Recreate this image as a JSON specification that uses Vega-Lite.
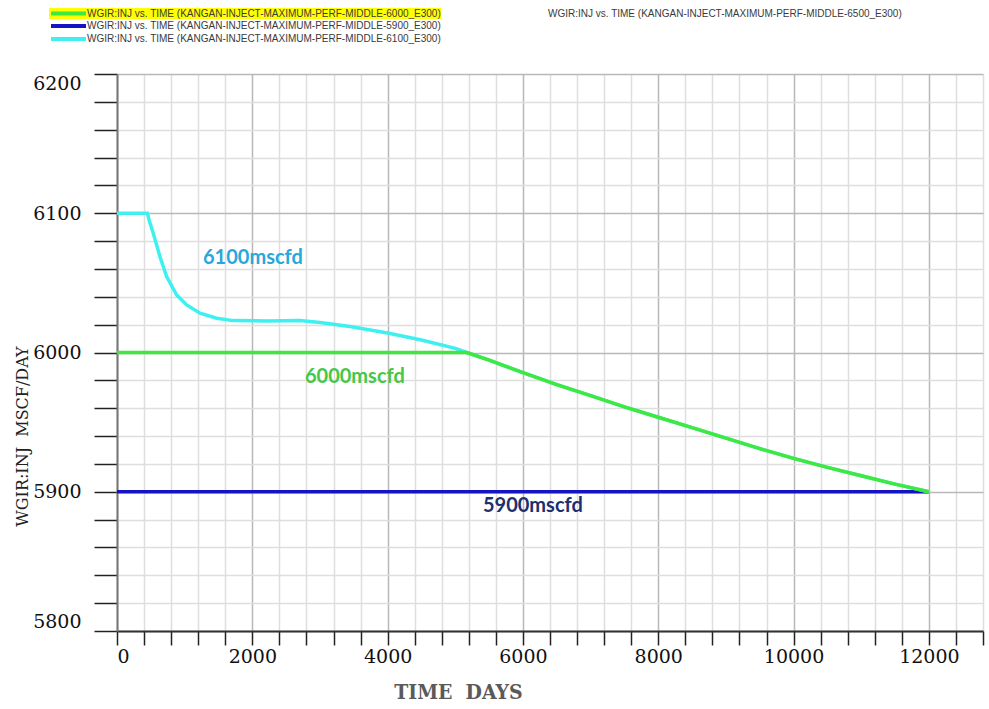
{
  "$schema": "https://vega.github.io/schema/vega-lite/v6.json",
  "autosize": "none",
  "width": 866,
  "height": 557,
  "padding": {"left": 117, "top": 74, "right": 6, "bottom": 78},
  "background": "#ffffff",
  "config": {"view": {"stroke": null}},
  "data": {
    "values": [
      {"series": "WGIR:INJ vs. TIME (KANGAN-INJECT-MAXIMUM-PERF-MIDDLE-5900_E300)", "days": 0, "rate": 5900},
      {"series": "WGIR:INJ vs. TIME (KANGAN-INJECT-MAXIMUM-PERF-MIDDLE-5900_E300)", "days": 12000, "rate": 5900},

      {"series": "WGIR:INJ vs. TIME (KANGAN-INJECT-MAXIMUM-PERF-MIDDLE-6100_E300)", "days": 0, "rate": 6100},
      {"series": "WGIR:INJ vs. TIME (KANGAN-INJECT-MAXIMUM-PERF-MIDDLE-6100_E300)", "days": 450, "rate": 6100},
      {"series": "WGIR:INJ vs. TIME (KANGAN-INJECT-MAXIMUM-PERF-MIDDLE-6100_E300)", "days": 475, "rate": 6095},
      {"series": "WGIR:INJ vs. TIME (KANGAN-INJECT-MAXIMUM-PERF-MIDDLE-6100_E300)", "days": 536, "rate": 6085.6},
      {"series": "WGIR:INJ vs. TIME (KANGAN-INJECT-MAXIMUM-PERF-MIDDLE-6100_E300)", "days": 635, "rate": 6068.8},
      {"series": "WGIR:INJ vs. TIME (KANGAN-INJECT-MAXIMUM-PERF-MIDDLE-6100_E300)", "days": 734, "rate": 6054.5},
      {"series": "WGIR:INJ vs. TIME (KANGAN-INJECT-MAXIMUM-PERF-MIDDLE-6100_E300)", "days": 882, "rate": 6041.3},
      {"series": "WGIR:INJ vs. TIME (KANGAN-INJECT-MAXIMUM-PERF-MIDDLE-6100_E300)", "days": 1030, "rate": 6034.2},
      {"series": "WGIR:INJ vs. TIME (KANGAN-INJECT-MAXIMUM-PERF-MIDDLE-6100_E300)", "days": 1227, "rate": 6028.2},
      {"series": "WGIR:INJ vs. TIME (KANGAN-INJECT-MAXIMUM-PERF-MIDDLE-6100_E300)", "days": 1473, "rate": 6024.6},
      {"series": "WGIR:INJ vs. TIME (KANGAN-INJECT-MAXIMUM-PERF-MIDDLE-6100_E300)", "days": 1719, "rate": 6022.9},
      {"series": "WGIR:INJ vs. TIME (KANGAN-INJECT-MAXIMUM-PERF-MIDDLE-6100_E300)", "days": 2212, "rate": 6022.7},
      {"series": "WGIR:INJ vs. TIME (KANGAN-INJECT-MAXIMUM-PERF-MIDDLE-6100_E300)", "days": 2704, "rate": 6022.9},
      {"series": "WGIR:INJ vs. TIME (KANGAN-INJECT-MAXIMUM-PERF-MIDDLE-6100_E300)", "days": 3000, "rate": 6021.5},
      {"series": "WGIR:INJ vs. TIME (KANGAN-INJECT-MAXIMUM-PERF-MIDDLE-6100_E300)", "days": 3443, "rate": 6018.6},
      {"series": "WGIR:INJ vs. TIME (KANGAN-INJECT-MAXIMUM-PERF-MIDDLE-6100_E300)", "days": 4000, "rate": 6014},
      {"series": "WGIR:INJ vs. TIME (KANGAN-INJECT-MAXIMUM-PERF-MIDDLE-6100_E300)", "days": 4500, "rate": 6009},
      {"series": "WGIR:INJ vs. TIME (KANGAN-INJECT-MAXIMUM-PERF-MIDDLE-6100_E300)", "days": 5000, "rate": 6003},
      {"series": "WGIR:INJ vs. TIME (KANGAN-INJECT-MAXIMUM-PERF-MIDDLE-6100_E300)", "days": 5170, "rate": 6000},
      {"series": "WGIR:INJ vs. TIME (KANGAN-INJECT-MAXIMUM-PERF-MIDDLE-6100_E300)", "days": 5500, "rate": 5994.5},
      {"series": "WGIR:INJ vs. TIME (KANGAN-INJECT-MAXIMUM-PERF-MIDDLE-6100_E300)", "days": 6000, "rate": 5985.5},
      {"series": "WGIR:INJ vs. TIME (KANGAN-INJECT-MAXIMUM-PERF-MIDDLE-6100_E300)", "days": 6500, "rate": 5977},
      {"series": "WGIR:INJ vs. TIME (KANGAN-INJECT-MAXIMUM-PERF-MIDDLE-6100_E300)", "days": 7000, "rate": 5969},
      {"series": "WGIR:INJ vs. TIME (KANGAN-INJECT-MAXIMUM-PERF-MIDDLE-6100_E300)", "days": 7500, "rate": 5961},
      {"series": "WGIR:INJ vs. TIME (KANGAN-INJECT-MAXIMUM-PERF-MIDDLE-6100_E300)", "days": 8000, "rate": 5953.5},
      {"series": "WGIR:INJ vs. TIME (KANGAN-INJECT-MAXIMUM-PERF-MIDDLE-6100_E300)", "days": 8500, "rate": 5946},
      {"series": "WGIR:INJ vs. TIME (KANGAN-INJECT-MAXIMUM-PERF-MIDDLE-6100_E300)", "days": 9000, "rate": 5938.5},
      {"series": "WGIR:INJ vs. TIME (KANGAN-INJECT-MAXIMUM-PERF-MIDDLE-6100_E300)", "days": 9500, "rate": 5931},
      {"series": "WGIR:INJ vs. TIME (KANGAN-INJECT-MAXIMUM-PERF-MIDDLE-6100_E300)", "days": 10000, "rate": 5924},
      {"series": "WGIR:INJ vs. TIME (KANGAN-INJECT-MAXIMUM-PERF-MIDDLE-6100_E300)", "days": 10500, "rate": 5917.5},
      {"series": "WGIR:INJ vs. TIME (KANGAN-INJECT-MAXIMUM-PERF-MIDDLE-6100_E300)", "days": 11000, "rate": 5911.5},
      {"series": "WGIR:INJ vs. TIME (KANGAN-INJECT-MAXIMUM-PERF-MIDDLE-6100_E300)", "days": 11500, "rate": 5905.5},
      {"series": "WGIR:INJ vs. TIME (KANGAN-INJECT-MAXIMUM-PERF-MIDDLE-6100_E300)", "days": 12000, "rate": 5900},

      {"series": "WGIR:INJ vs. TIME (KANGAN-INJECT-MAXIMUM-PERF-MIDDLE-6000_E300)", "days": 0, "rate": 6000},
      {"series": "WGIR:INJ vs. TIME (KANGAN-INJECT-MAXIMUM-PERF-MIDDLE-6000_E300)", "days": 5170, "rate": 6000},
      {"series": "WGIR:INJ vs. TIME (KANGAN-INJECT-MAXIMUM-PERF-MIDDLE-6000_E300)", "days": 5500, "rate": 5994.5},
      {"series": "WGIR:INJ vs. TIME (KANGAN-INJECT-MAXIMUM-PERF-MIDDLE-6000_E300)", "days": 6000, "rate": 5985.5},
      {"series": "WGIR:INJ vs. TIME (KANGAN-INJECT-MAXIMUM-PERF-MIDDLE-6000_E300)", "days": 6500, "rate": 5977},
      {"series": "WGIR:INJ vs. TIME (KANGAN-INJECT-MAXIMUM-PERF-MIDDLE-6000_E300)", "days": 7000, "rate": 5969},
      {"series": "WGIR:INJ vs. TIME (KANGAN-INJECT-MAXIMUM-PERF-MIDDLE-6000_E300)", "days": 7500, "rate": 5961},
      {"series": "WGIR:INJ vs. TIME (KANGAN-INJECT-MAXIMUM-PERF-MIDDLE-6000_E300)", "days": 8000, "rate": 5953.5},
      {"series": "WGIR:INJ vs. TIME (KANGAN-INJECT-MAXIMUM-PERF-MIDDLE-6000_E300)", "days": 8500, "rate": 5946},
      {"series": "WGIR:INJ vs. TIME (KANGAN-INJECT-MAXIMUM-PERF-MIDDLE-6000_E300)", "days": 9000, "rate": 5938.5},
      {"series": "WGIR:INJ vs. TIME (KANGAN-INJECT-MAXIMUM-PERF-MIDDLE-6000_E300)", "days": 9500, "rate": 5931},
      {"series": "WGIR:INJ vs. TIME (KANGAN-INJECT-MAXIMUM-PERF-MIDDLE-6000_E300)", "days": 10000, "rate": 5924},
      {"series": "WGIR:INJ vs. TIME (KANGAN-INJECT-MAXIMUM-PERF-MIDDLE-6000_E300)", "days": 10500, "rate": 5917.5},
      {"series": "WGIR:INJ vs. TIME (KANGAN-INJECT-MAXIMUM-PERF-MIDDLE-6000_E300)", "days": 11000, "rate": 5911.5},
      {"series": "WGIR:INJ vs. TIME (KANGAN-INJECT-MAXIMUM-PERF-MIDDLE-6000_E300)", "days": 11500, "rate": 5905.5},
      {"series": "WGIR:INJ vs. TIME (KANGAN-INJECT-MAXIMUM-PERF-MIDDLE-6000_E300)", "days": 12000, "rate": 5900},

      {"note": "6100mscfd", "days": 1271, "rate": 6068},
      {"note": "6000mscfd", "days": 2778, "rate": 5982.3},
      {"note": "5900mscfd", "days": 5409, "rate": 5889.7}
    ]
  },
  "encoding": {
    "x": {
      "field": "days",
      "type": "quantitative",
      "scale": {"domain": [0, 12800], "nice": false, "zero": false},
      "axis": {
        "title": "TIME\u00a0\u00a0DAYS",
        "titleFont": "DejaVu Serif Condensed, DejaVu Serif",
        "titleFontSize": 21,
        "titleFontWeight": "bold",
        "titleColor": "#5a5a5a",
        "titleX": 341,
        "titleY": 61,
        "titleAlign": "center",
        "titleBaseline": "middle",
        "values": [0, 400, 800, 1200, 1600, 2000, 2400, 2800, 3200, 3600, 4000, 4400, 4800, 5200, 5600, 6000, 6400, 6800, 7200, 7600, 8000, 8400, 8800, 9200, 9600, 10000, 10400, 10800, 11200, 11600, 12000, 12400, 12800],
        "format": "d",
        "labelExpr": "datum.value % 2000 === 0 && datum.value <= 12000 ? datum.label : ''",
        "labelFlush": true,
        "labelOverlap": false,
        "labelFont": "DejaVu Serif",
        "labelFontSize": 19,
        "labelColor": "#111111",
        "labelPadding": 2,
        "labelAngle": 0,
        "tickSize": 14,
        "tickColor": "#222222",
        "tickWidth": 1.5,
        "domainColor": "#333333",
        "domainWidth": 2,
        "grid": true,
        "gridWidth": 1.5,
        "gridColor": {"condition": {"test": "datum.value % 2000 === 0", "value": "#b8b8b8"}, "value": "#dedede"},
        "encode": {"ticks": {"update": {"y2": {"signal": "datum.value % 2000 === 0 ? 14 : 7"}}}}
      }
    },
    "y": {
      "field": "rate",
      "type": "quantitative",
      "scale": {"domain": [5800, 6200], "nice": false, "zero": false},
      "axis": {
        "title": "WGIR:INJ\u00a0\u00a0MSCF/DAY",
        "titleFont": "DejaVu Serif",
        "titleFontSize": 16,
        "titleFontWeight": "normal",
        "titleColor": "#222222",
        "titleAngle": 270,
        "titleX": -95,
        "titleY": 362,
        "titleAlign": "center",
        "titleBaseline": "middle",
        "values": [5800, 5820, 5840, 5860, 5880, 5900, 5920, 5940, 5960, 5980, 6000, 6020, 6040, 6060, 6080, 6100, 6120, 6140, 6160, 6180, 6200],
        "format": "d",
        "labelExpr": "datum.value % 100 === 0 ? datum.label : ''",
        "labelFlush": true,
        "labelOverlap": false,
        "labelFont": "DejaVu Serif",
        "labelFontSize": 19,
        "labelColor": "#111111",
        "labelPadding": 13,
        "tickSize": 23,
        "tickColor": "#222222",
        "tickWidth": 1.5,
        "domainColor": "#777777",
        "domainWidth": 2,
        "grid": true,
        "gridWidth": 1.5,
        "gridColor": {"condition": {"test": "datum.value % 100 === 0", "value": "#b8b8b8"}, "value": "#dedede"},
        "encode": {"ticks": {"update": {"x2": {"signal": "datum.value % 100 === 0 ? -23 : -12"}}}}
      }
    }
  },
  "layer": [
    {
      "transform": [{"filter": "datum.series === 'WGIR:INJ vs. TIME (KANGAN-INJECT-MAXIMUM-PERF-MIDDLE-5900_E300)' || datum.series === 'WGIR:INJ vs. TIME (KANGAN-INJECT-MAXIMUM-PERF-MIDDLE-6100_E300)'"}],
      "mark": {"type": "line", "strokeWidth": 3.5, "clip": true},
      "encoding": {
        "color": {
          "field": "series",
          "type": "nominal",
          "scale": {
            "domain": ["WGIR:INJ vs. TIME (KANGAN-INJECT-MAXIMUM-PERF-MIDDLE-5900_E300)", "WGIR:INJ vs. TIME (KANGAN-INJECT-MAXIMUM-PERF-MIDDLE-6100_E300)"],
            "range": ["#1414c4", "#3ef0f0"]
          },
          "legend": {
            "title": null, "orient": "none", "legendX": -68, "legendY": -54.5,
            "padding": 0, "clipHeight": 13, "rowPadding": 0,
            "symbolType": "stroke", "symbolSize": 1225, "symbolStrokeWidth": 4,
            "labelFont": "Liberation Sans", "labelFontSize": 10, "labelColor": "#3a3a3a",
            "labelOffset": -1, "labelLimit": 600
          }
        }
      }
    },
    {
      "transform": [{"filter": "datum.series === 'WGIR:INJ vs. TIME (KANGAN-INJECT-MAXIMUM-PERF-MIDDLE-6000_E300)'"}],
      "mark": {"type": "line", "strokeWidth": 3.5, "clip": true},
      "encoding": {
        "color": {
          "field": "series",
          "type": "nominal",
          "scale": {
            "domain": ["WGIR:INJ vs. TIME (KANGAN-INJECT-MAXIMUM-PERF-MIDDLE-6000_E300)"],
            "range": ["#3ee83e"]
          },
          "legend": {
            "title": null, "orient": "none", "legendX": -68, "legendY": -66,
            "padding": 0, "clipHeight": 11, "fillColor": "#ffff00",
            "symbolType": "stroke", "symbolSize": 1225, "symbolStrokeWidth": 4,
            "labelFont": "Liberation Sans", "labelFontSize": 10, "labelColor": "#3a3a3a",
            "labelOffset": -1, "labelLimit": 600
          }
        }
      }
    },
    {
      "transform": [{"filter": "datum.series === 'WGIR:INJ vs. TIME (KANGAN-INJECT-MAXIMUM-PERF-MIDDLE-6500_E300)'"}],
      "mark": {"type": "line", "strokeWidth": 3.5, "clip": true},
      "encoding": {
        "color": {
          "field": "series",
          "type": "nominal",
          "scale": {
            "domain": ["WGIR:INJ vs. TIME (KANGAN-INJECT-MAXIMUM-PERF-MIDDLE-6500_E300)"],
            "range": ["#ffffff"]
          },
          "legend": {
            "title": null, "orient": "none", "legendX": 393, "legendY": -66,
            "padding": 0, "clipHeight": 11,
            "symbolType": "stroke", "symbolSize": 1225, "symbolStrokeWidth": 4,
            "labelFont": "Liberation Sans", "labelFontSize": 10, "labelColor": "#3a3a3a",
            "labelOffset": -1, "labelLimit": 600
          }
        }
      }
    },
    {
      "transform": [{"filter": "datum.note != null"}],
      "mark": {"type": "text", "align": "left", "baseline": "middle", "font": "Lato", "fontSize": 20, "fontWeight": "bold"},
      "encoding": {
        "text": {"field": "note", "type": "nominal"},
        "color": {
          "field": "note",
          "type": "nominal",
          "scale": {"domain": ["6100mscfd", "6000mscfd", "5900mscfd"], "range": ["#27a8dc", "#46c846", "#1c2f6e"]},
          "legend": null
        }
      }
    }
  ],
  "resolve": {"scale": {"color": "independent"}, "legend": {"color": "independent"}}
}
